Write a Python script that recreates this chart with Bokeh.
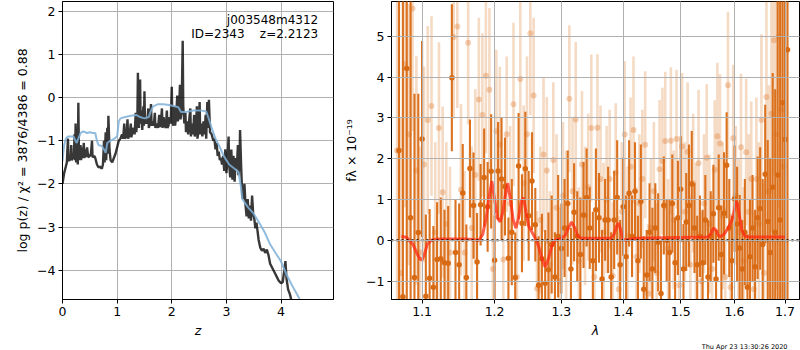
import numpy as np
from bokeh.plotting import figure
from bokeh.layouts import row
from bokeh.models import Range1d, FixedTicker, CustomJSTickFormatter, Label, Span, ColumnDataSource, Title
from bokeh.embed import file_html
from bokeh.resources import INLINE

# ---------------- data: left panel (redshift probability) ----------------
pz_data = [(0.00, -2.00), (0.03, -1.75), (0.06, -1.60), (0.08, -1.50), (0.09, -1.20), (0.10, -0.95),
           (0.11, -1.45), (0.13, -1.45), (0.15, -1.40), (0.16, -1.10), (0.17, -1.45), (0.19, -1.40),
           (0.21, -1.30), (0.22, -0.85), (0.23, -1.45), (0.24, -0.60), (0.25, -1.50), (0.27, -0.70),
           (0.28, -1.55), (0.29, -0.12), (0.30, -1.20), (0.31, -1.45), (0.33, -1.10), (0.34, -1.45),
           (0.36, -1.15), (0.37, -1.40), (0.39, -1.05), (0.40, -1.40), (0.42, -1.20), (0.43, -1.38),
           (0.45, -1.15), (0.47, -1.38), (0.50, -1.35), (0.52, -1.30), (0.54, -1.00), (0.55, -1.38),
           (0.58, -1.35), (0.60, -1.40), (0.63, -1.55), (0.66, -1.62), (0.69, -1.60), (0.72, -1.65),
           (0.74, -1.55), (0.76, -1.00), (0.77, -1.50), (0.79, -0.80), (0.80, -1.45), (0.82, -0.70),
           (0.83, -1.30), (0.84, -0.42), (0.86, -1.20), (0.88, -1.45), (0.91, -1.50), (0.94, -1.40),
           (0.97, -1.30), (1.00, -1.15), (1.03, -1.00), (1.06, -0.95), (1.09, -0.85), (1.11, -0.95),
           (1.13, -0.60), (1.14, -0.95), (1.17, -0.90), (1.19, -0.50), (1.20, -0.95), (1.23, -0.85),
           (1.25, -0.60), (1.26, -0.92), (1.28, -0.80), (1.30, -0.70), (1.32, -0.85), (1.34, -0.35),
           (1.35, -0.80), (1.37, -0.50), (1.38, 0.58), (1.39, -0.40), (1.40, -0.70), (1.41, 0.20),
           (1.42, 0.42), (1.43, -0.60), (1.45, -0.30), (1.46, -0.75), (1.48, -0.20), (1.49, -0.65),
           (1.50, 0.15), (1.51, -0.60), (1.53, -0.55), (1.55, -0.60), (1.57, -0.25), (1.58, -0.70),
           (1.60, -0.60), (1.62, -0.15), (1.63, -0.65), (1.65, -0.55), (1.67, -0.65), (1.69, -0.35),
           (1.70, -0.70), (1.73, -0.60), (1.75, -0.70), (1.77, -0.40), (1.78, -0.68), (1.80, -0.60),
           (1.82, -0.25), (1.83, -0.70), (1.85, -0.45), (1.87, -0.65), (1.89, -0.70), (1.91, -0.30),
           (1.92, -0.70), (1.94, -0.65), (1.96, -0.45), (1.98, -0.60), (2.00, 0.25), (2.01, -0.55),
           (2.03, -0.65), (2.05, -0.20), (2.06, -0.65), (2.08, -0.45), (2.10, 0.05), (2.11, -0.55),
           (2.13, -0.40), (2.15, 0.30), (2.16, -0.50), (2.18, -0.30), (2.20, 1.32), (2.21, -0.20),
           (2.23, -0.60), (2.25, -0.35), (2.26, -0.80), (2.28, -0.55), (2.30, -0.85), (2.32, -0.50),
           (2.34, -0.25), (2.35, -0.90), (2.37, -0.60), (2.39, -0.85), (2.41, -0.40), (2.42, -0.90),
           (2.44, -0.70), (2.46, -0.20), (2.47, -0.95), (2.49, -0.75), (2.51, -0.10), (2.52, -0.85),
           (2.54, -0.60), (2.56, -0.90), (2.58, -0.55), (2.60, -0.85), (2.62, -0.40), (2.63, -0.95),
           (2.65, -0.10), (2.66, -0.70), (2.68, -0.05), (2.70, -0.80), (2.73, -0.85), (2.76, -1.00),
           (2.78, -0.95), (2.80, -1.20), (2.82, -1.05), (2.84, -1.35), (2.86, -1.25), (2.88, -1.45),
           (2.90, -1.40), (2.92, -1.55), (2.94, -1.35), (2.96, -1.70), (2.98, -1.20), (3.00, -1.75),
           (3.02, -1.45), (3.04, -0.90), (3.05, -1.55), (3.07, -1.85), (3.09, -1.20), (3.11, -1.90),
           (3.13, -1.35), (3.15, -1.95), (3.17, -1.40), (3.19, -1.65), (3.21, -1.10), (3.22, -1.80),
           (3.24, -1.50), (3.25, -0.75), (3.27, -1.60), (3.29, -2.30), (3.31, -2.35), (3.33, -2.00),
           (3.35, -2.50), (3.37, -2.75), (3.39, -2.35), (3.41, -2.80), (3.43, -2.50), (3.45, -2.85),
           (3.47, -2.27), (3.49, -2.70), (3.51, -2.80), (3.53, -3.03), (3.55, -2.90), (3.57, -3.10),
           (3.59, -3.30), (3.62, -3.48), (3.65, -3.55), (3.68, -3.50), (3.71, -3.60), (3.74, -3.52),
           (3.77, -3.65), (3.80, -3.85), (3.84, -3.95), (3.88, -4.05), (3.92, -4.15), (3.96, -4.25),
           (4.00, -4.30), (4.03, -4.28), (4.06, -4.00), (4.08, -3.79), (4.10, -4.20), (4.13, -4.45),
           (4.16, -4.55), (4.19, -4.70), (4.24, -4.85)]

pz_prior = [(0.00, -1.47), (0.03, -1.10), (0.06, -0.95), (0.10, -0.90), (0.15, -0.90), (0.20, -0.90),
            (0.23, -0.98), (0.26, -1.05), (0.29, -0.95), (0.33, -0.82), (0.38, -0.78), (0.45, -0.82),
            (0.50, -0.80), (0.55, -0.82), (0.60, -0.82), (0.63, -1.00), (0.66, -1.10), (0.72, -1.12),
            (0.76, -1.20), (0.79, -1.28), (0.82, -1.05), (0.87, -1.00), (0.95, -0.95), (1.00, -0.90),
            (1.03, -0.55), (1.06, -0.48), (1.15, -0.45), (1.25, -0.42), (1.35, -0.40), (1.42, -0.45),
            (1.50, -0.48), (1.58, -0.45), (1.62, -0.30), (1.66, -0.20), (1.75, -0.15), (1.85, -0.15),
            (1.95, -0.17), (2.05, -0.20), (2.12, -0.22), (2.17, -0.33), (2.25, -0.33), (2.40, -0.30),
            (2.55, -0.30), (2.63, -0.32), (2.68, -0.50), (2.73, -0.70), (2.80, -0.95), (2.88, -1.15),
            (2.95, -1.35), (3.05, -1.55), (3.15, -1.65), (3.22, -1.72), (3.27, -2.10), (3.29, -2.35),
            (3.40, -2.55), (3.50, -2.69), (3.60, -2.90), (3.70, -3.12), (3.80, -3.40), (3.90, -3.60),
            (4.00, -3.80), (4.10, -4.10), (4.20, -4.35), (4.32, -4.62), (4.40, -4.85)]

z_ticks = [0, 1, 2, 3, 4]
logp_ticks = [-4, -3, -2, -1, 0, 1, 2]

# ---------------- data: right panel (spectrum) ----------------
lam_dark_start, lam_step = 1.070, 0.005
flux_dark = [2.2, -1.38, 4.21, 0.55, -0.91, 0.19, 2.48, -1.37, -0.93, -1.15,
             -0.47, -0.45, -0.55, -0.56, 3.98, -0.3, -0.6, 1.16, -0.91, 1.76,
             0.85, -0.53, 0.87, 1.54, 0.82, 1.69, -0.49, 1.7, 1.5, 1.32,
             -0.44, 0.2, -0.91, 1.82, 0.42, 1.75, 0.6, 1.45, 0.38, -1.1,
             -0.45, -1.05, -0.72, -0.1, -0.9, 0.1, -0.2, 0.3, 0.9, -0.7,
             0.69, 0.1, -0.35, 0.62, 1.05, 0.3, -0.5, 0.75, 0.55, -0.95,
             0.5, 0.5, -0.9, 0.5, 1.05, -0.6, 0.82, -0.4, 1.15, 0.1,
             1.2, -0.5, 0.95, -1.2, -0.85, 0.2, -0.7, 0.3, -0.05, -1.3,
             0.85, 0.0, -0.3, 0.9, -0.55, 0.55, 1.25, -0.7, 0.45, 0.85,
             1.38, 0.3, -0.6, 0.1, -0.55, 0.5, -0.9, 0.1, 0.65, -0.95,
             0.8, -0.35, 0.66, 1.84, 0.3, -0.5, 1.02, 0.4, -0.19, -0.7,
             0.2, -1.15, -0.4, 0.3, -0.65, 0.55, 0.78, -0.1, 1.62, 0.46,
             -0.3, 1.3, 0.2, 1.6, 0.5, 3.37, 2.47, 4.67]
err_dark = [9, 8, 7, 6, 4.5, 3.4, 2.4, 2.0, 1.7, 1.5,
            1.4, 1.5, 1.3, 1.4, 1.8, 1.3, 1.5, 1.2, 1.3, 1.2,
            1.3, 1.2, 1.0, 1.2, 1.1, 1.4, 1.1, 1.2, 1.5, 1.2,
            1.0, 1.3, 1.1, 1.3, 1.2, 1.4, 1.1, 1.2, 0.9, 1.2,
            1.1, 1.3, 1.4, 1.2, 1.1, 1.5, 1.1, 1.2, 1.3, 1.0,
            1.2, 1.1, 1.4, 1.3, 1.2, 1.0, 1.2, 1.5, 1.1, 1.2,
            1.0, 1.3, 1.1, 1.2, 1.4, 1.1, 1.2, 1.5, 1.3, 1.0,
            1.2, 1.1, 1.4, 1.3, 1.1, 1.2, 1.5, 1.1, 1.2, 1.3,
            1.2, 1.0, 1.3, 1.2, 1.1, 1.4, 1.3, 1.1, 1.2, 1.5,
            1.3, 1.1, 1.2, 1.0, 1.3, 1.1, 1.4, 1.1, 1.2, 1.2,
            1.3, 1.2, 1.5, 1.3, 1.2, 1.1, 1.3, 1.4, 1.3, 1.2,
            1.3, 1.3, 1.4, 1.3, 1.4, 1.5, 1.5, 1.6, 1.7, 2.0,
            2.3, 2.8, 3.5, 4.5, 6, 8, 9, 9]

lam_light_start = 1.0675
flux_light = [2.2, -0.8, 4.31, 2.59, 5.68, 1.71, -0.3, 1.86, 2.95, 3.29,
              0.2, 2.75, 1.18, 0.4, -0.3, 4.98, 5.24, 1.24, -0.3, 4.84,
              0.3, 1.6, 3.45, 3.07, 4.03, 3.69, -0.7, 2.67, 2.35, -0.47,
              2.6, 0.9, 3.33, -0.9, 3.95, 1.4, 2.6, 5.07, 3.55, -1.18,
              0.5, 2.1, 1.71, -0.6, 1.97, 0.8, -1.0, 1.1, 0.3, 3.47,
              1.2, 2.96, -0.5, 1.86, 0.6, 1.3, 2.75, -0.9, 2.76, 1.5,
              0.2, 1.0, 1.5, -0.87, 1.66, -1.2, 0.7, 2.59, 0.1, 1.8,
              2.7, -0.4, 0.9, 1.5, 2.34, -1.3, 0.3, 1.2, -0.8, 1.74,
              1.94, 2.43, -0.2, 2.44, 0.5, 2.48, -1.1, 2.3, 0.7, 2.17,
              -0.6, 1.4, 0.2, 1.89, -1.0, 0.9, 2.02, 0.4, -0.7, 1.73,
              2.55, 2.37, 0.6, -0.9, 3.8, -1.15, 2.5, 1.1, 0.2, 2.28,
              -0.5, 2.16, 0.7, 1.5, -1.2, 1.5, 0.4, 2.95, -0.8, 3.51,
              1.2, 3.1, 4.9, 2.6, 5.0, 3.2, 1.8]
err_light = [4.0, 3.8, 3.5, 3.2, 3.0, 2.8, 2.6, 2.4, 2.3, 2.2,
             2.2, 2.1, 2.1, 2.0, 2.1, 2.0, 2.0, 2.1, 2.0, 2.0,
             2.0, 2.1, 2.0, 2.0, 1.9, 2.0, 1.9, 2.0, 1.9, 2.0,
             1.9, 1.9, 2.0, 1.9, 2.0, 1.9, 1.9, 2.0, 1.9, 1.9,
             1.8, 1.9, 1.8, 1.8, 1.9, 1.8, 1.8, 1.8, 1.9, 1.8,
             1.8, 1.9, 1.8, 1.8, 1.7, 1.8, 1.8, 1.7, 1.8, 1.8,
             1.7, 1.8, 1.7, 1.8, 1.7, 1.8, 1.7, 1.8, 1.7, 1.7,
             1.8, 1.7, 1.7, 1.7, 1.8, 1.7, 1.7, 1.7, 1.7, 1.7,
             1.8, 1.7, 1.7, 1.8, 1.7, 1.7, 1.7, 1.8, 1.7, 1.7,
             1.7, 1.7, 1.7, 1.8, 1.7, 1.7, 1.8, 1.7, 1.8, 1.7,
             1.8, 1.7, 1.8, 1.7, 1.8, 1.8, 1.8, 1.7, 1.8, 1.8,
             1.8, 1.8, 1.9, 1.9, 1.9, 2.0, 2.0, 2.1, 2.2, 2.4,
             2.6, 2.9, 3.3, 3.8, 4.2, 4.6, 5.0]

lam_model = [1.073, 1.080, 1.088, 1.094, 1.098, 1.100, 1.103, 1.107, 1.112, 1.120,
             1.140, 1.160, 1.178, 1.183, 1.188, 1.192, 1.196, 1.200, 1.204, 1.208,
             1.212, 1.216, 1.219, 1.223, 1.227, 1.231, 1.235, 1.239, 1.242, 1.246,
             1.250, 1.255, 1.260, 1.265, 1.270, 1.275, 1.280, 1.285, 1.290, 1.300,
             1.306, 1.311, 1.316, 1.321, 1.326, 1.332, 1.340, 1.380, 1.385, 1.389,
             1.392, 1.395, 1.399, 1.402, 1.420, 1.500, 1.550, 1.555, 1.560, 1.565,
             1.570, 1.575, 1.580, 1.588, 1.595, 1.600, 1.603, 1.606, 1.610, 1.614,
             1.620, 1.630, 1.660, 1.702]
flux_model = [0.1, 0.07, -0.1, -0.35, -0.47, -0.48, -0.35, -0.1, 0.0, 0.03,
              0.03, 0.03, 0.0, 0.15, 0.55, 1.05, 1.45, 1.0, 0.55, 0.45,
              0.7, 1.15, 1.4, 1.0, 0.5, 0.3, 0.55, 0.95, 1.05, 0.7,
              0.35, 0.2, 0.05, -0.15, -0.45, -0.65, -0.45, -0.15, 0.0, 0.05,
              0.12, 0.3, 0.45, 0.3, 0.1, 0.05, 0.05, 0.05, 0.15, 0.35,
              0.42, 0.3, 0.05, 0.0, 0.05, 0.07, 0.08, 0.15, 0.3, 0.25,
              0.1, 0.1, 0.15, 0.3, 0.5, 0.75, 0.95, 0.9, 0.55, 0.25,
              0.1, 0.08, 0.08, 0.08]

lam_ticks = [1.1, 1.2, 1.3, 1.4, 1.5, 1.6, 1.7]
flux_ticks = [-1, 0, 1, 2, 3, 4, 5]

title_line1 = "j003548m4312"
title_line2 = "ID=2343\u00a0\u00a0\u00a0\u00a0z=2.2123"
timestamp = "Thu Apr 23 13:30:26 2020"

# ---------------- styling helpers ----------------
FONT = "DejaVu Sans"
GRID = "#b0b0b0"
ORANGE = "#d96a14"
MINUS_FMT = "return (tick < 0 ? '\u2212' + (-tick) : '' + tick);"
H = 350
BOTTOM = 51


def style_axes(p):
    p.outline_line_color = "black"
    p.outline_line_width = 1
    p.outline_line_alpha = 1
    p.background_fill_color = "white"
    p.border_fill_color = "white"
    for ax in (p.xaxis, p.yaxis):
        ax.axis_line_color = "black"
        ax.major_tick_line_color = "black"
        ax.major_tick_out = 4
        ax.major_tick_in = 0
        ax.minor_tick_line_color = None
        ax.major_label_text_font = FONT
        ax.major_label_text_font_size = "12.5px"
        ax.major_label_text_color = "black"
        ax.major_label_standoff = 3
        ax.axis_label_text_font = FONT
        ax.axis_label_text_font_size = "12.5px"
        ax.axis_label_text_color = "black"
        ax.axis_label_standoff = 4
    for g in (p.xgrid, p.ygrid):
        g.grid_line_color = GRID
        g.grid_line_width = 1


# ---------------- left panel ----------------
p1 = figure(width=337, height=H, x_range=Range1d(0, 4.96), y_range=Range1d(-4.68, 2.23),
            output_backend="svg", toolbar_location=None,
            min_border_left=62, min_border_right=4, min_border_top=1, min_border_bottom=BOTTOM)
style_axes(p1)
p1.xaxis.ticker = FixedTicker(ticks=z_ticks)
p1.yaxis.ticker = FixedTicker(ticks=logp_ticks)
p1.yaxis.formatter = CustomJSTickFormatter(code=MINUS_FMT)
p1.xaxis.axis_label = "z"
p1.xaxis.axis_label_text_font_style = "italic"
p1.yaxis.axis_label = "log p(z) / \u03c7\u00b2 = 3876/4386 = 0.88"
p1.yaxis.axis_label_text_font_style = "normal"

zd = [a for a, b in pz_data]
yd = [b for a, b in pz_data]
zp = [a for a, b in pz_prior]
yp = [b for a, b in pz_prior]
p1.line(zd, yd, line_color="black", line_alpha=0.78, line_width=2.4)
p1.line(zp, yp, line_color="#7fb0d8", line_alpha=0.85, line_width=2)

p1.add_layout(Label(x=4.68, y=1.79, text=title_line1, text_align="right", text_baseline="middle",
                    text_font=FONT, text_font_size="12px", text_color="black"))
p1.add_layout(Label(x=4.68, y=1.47, text=title_line2, text_align="right", text_baseline="middle",
                    text_font=FONT, text_font_size="12px", text_color="black"))

# ---------------- right panel ----------------
lam_dark = np.round(lam_dark_start + lam_step * np.arange(len(flux_dark)), 4)
lam_light = np.round(lam_light_start + lam_step * np.arange(len(flux_light)), 4)
fd = np.array(flux_dark)
ed = np.array(err_dark)
fl = np.array(flux_light)
el = np.array(err_light)

src_dark = ColumnDataSource(dict(lam=lam_dark, f=fd, lo=fd - ed, hi=fd + ed))
src_light = ColumnDataSource(dict(lam=lam_light, f=fl, lo=fl - el, hi=fl + el))

p2 = figure(width=463, height=H, x_axis_type="log", x_range=Range1d(1.0604, 1.7297),
            y_range=Range1d(-1.45, 5.85), output_backend="svg", toolbar_location=None,
            min_border_left=54, min_border_right=1, min_border_top=1, min_border_bottom=BOTTOM)
style_axes(p2)
p2.xaxis.ticker = FixedTicker(ticks=lam_ticks)
p2.xaxis.formatter = CustomJSTickFormatter(code="return tick.toFixed(1);")
p2.yaxis.ticker = FixedTicker(ticks=flux_ticks)
p2.yaxis.formatter = CustomJSTickFormatter(code=MINUS_FMT)
p2.xaxis.axis_label = "\u03bb"
p2.xaxis.axis_label_text_font_style = "italic"
p2.yaxis.axis_label = "f\u03bb \u00d7 10\u207b\u00b9\u2079"
p2.yaxis.axis_label_text_font_style = "normal"
p2.xgrid.level = "overlay"
p2.ygrid.level = "overlay"

p2.segment(x0="lam", y0="lo", x1="lam", y1="hi", source=src_light,
           line_color=ORANGE, line_alpha=0.25, line_width=2.6)
p2.scatter(x="lam", y="f", source=src_light, size=6, fill_color=ORANGE, fill_alpha=0.3,
           line_color=None)
p2.segment(x0="lam", y0="lo", x1="lam", y1="hi", source=src_dark,
           line_color=ORANGE, line_alpha=0.95, line_width=2.1)
p2.scatter(x="lam", y="f", source=src_dark, size=5.5, fill_color=ORANGE, line_color=None)
p2.line(lam_model, flux_model, line_color="#ff2a10", line_alpha=0.75, line_width=3)
p2.add_layout(Span(location=0, dimension="width", line_color="black", line_width=2,
                   line_dash="2 3"))

p2.add_layout(Title(text=timestamp, align="right", text_font=FONT, text_font_size="6.5px",
                    text_font_style="normal", text_color="black", standoff=0, offset=12), "below")

layout = row(p1, p2)
open("out.html", "w").write(file_html(layout, INLINE))
